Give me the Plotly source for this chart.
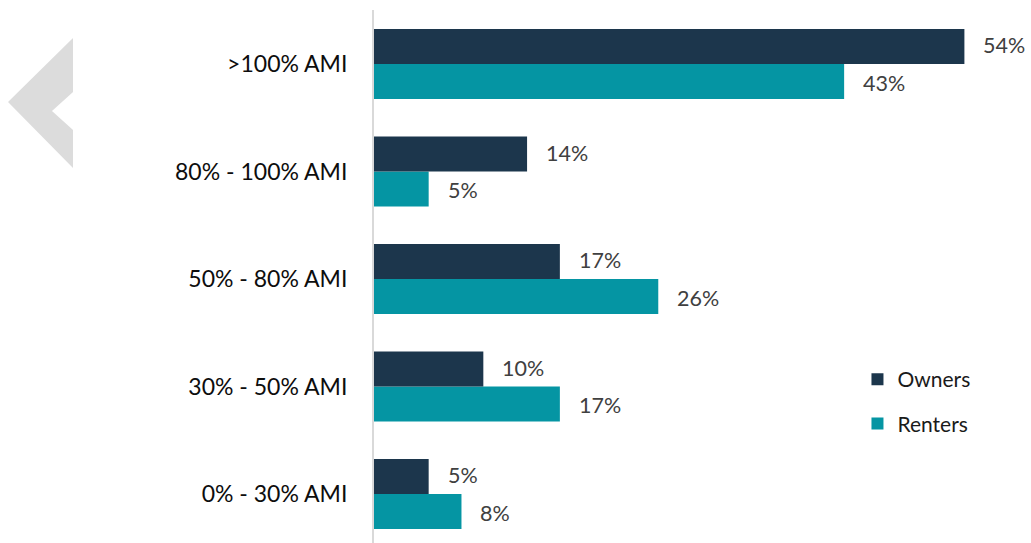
import plotly.graph_objects as go

# Household income bands (bottom to top) and share of households in each
categories = ["0% - 30% AMI", "30% - 50% AMI", "50% - 80% AMI", "80% - 100% AMI", ">100% AMI"]
owners = [5, 10, 17, 14, 54]
renters = [8, 17, 26, 5, 43]

OWNER_COLOR = "#1c364c"
RENTER_COLOR = "#0595a3"
FONT = "Lato"

W, H = 1031, 543
ML, MR, MT, MB = 374, 1, 10, 0
PW, PH = W - ML - MR, H - MT - MB


def to_paper(px, py):
    return (px - ML) / PW, 1 - (py - MT) / PH


fig = go.Figure()
fig.add_trace(go.Bar(
    y=categories, x=renters, name="Renters", orientation="h",
    marker=dict(color=RENTER_COLOR, line=dict(width=0)),
    legendrank=2, legendgroup="r",
))
fig.add_trace(go.Bar(
    y=categories, x=owners, name="Owners", orientation="h",
    marker=dict(color=OWNER_COLOR, line=dict(width=0)),
    legendrank=1, legendgroup="o",
))

# Value labels placed just past the end of each bar
annotations = []
for i, cat in enumerate(categories):
    for val, off in ((owners[i], 0.175), (renters[i], -0.175)):
        annotations.append(dict(
            x=val, y=i + off, xref="x", yref="y", text=f"{val}%",
            showarrow=False, xanchor="left", yanchor="middle", xshift=17,
            font=dict(family=FONT, size=21.5, color="#404040"),
        ))

# Grey chevron decoration at the top left
chev = [(73, 38), (73, 92), (52, 111), (73, 130), (73, 168), (8, 102)]
pts = [to_paper(x, y) for x, y in chev]
path = "M " + " L ".join(f"{x:.4f},{y:.4f}" for x, y in pts) + " Z"

fig.update_layout(
    width=W, height=H,
    margin=dict(l=ML, r=MR, t=MT, b=MB),
    paper_bgcolor="white", plot_bgcolor="white",
    barmode="group", bargap=0.35, bargroupgap=0,
    font=dict(family=FONT, size=20, color="#0d0d0d"),
    showlegend=True,
    legend=dict(
        x=0.737, y=0.345, xanchor="left", yanchor="top",
        font=dict(family=FONT, size=21, color="#1a1a1a"),
        tracegroupgap=14, itemwidth=30, bgcolor="rgba(0,0,0,0)",
    ),
    annotations=annotations,
    shapes=[dict(type="path", xref="paper", yref="paper", path=path,
                 fillcolor="#dcdcdc", line=dict(width=0), layer="below")],
    xaxis=dict(range=[0, 60], visible=False, fixedrange=True),
    yaxis=dict(
        type="category", categoryorder="array", categoryarray=categories,
        range=[-0.456, 4.502],
        showline=True, linecolor="#d9d9d9", linewidth=2,
        showgrid=False, zeroline=False, ticks="",
        ticklabelstandoff=20,
        tickfont=dict(family=FONT, size=23, color="#0d0d0d"),
    ),
)

fig.write_html("out.html")
